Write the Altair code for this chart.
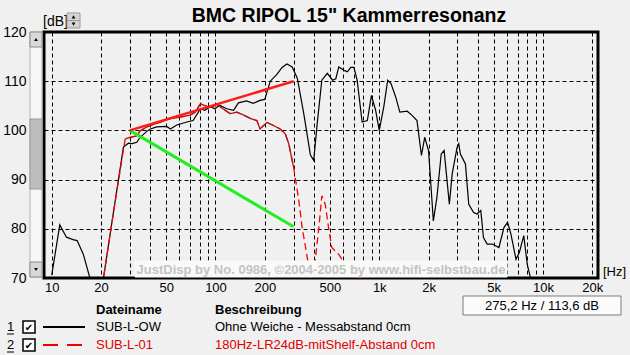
import altair as alt
import pandas as pd

# ---------------- data ----------------
black_f = [10, 11.2, 12.3, 13.5, 14.3, 15.6, 17.1, 18.5, 20.7, 23.8, 27.4, 29.4, 31, 33.1, 34.6,
           38.1, 40, 43.8, 50.5, 53, 58, 67, 73, 81, 86, 93, 99, 106, 117, 129, 138, 155, 170,
           187, 200, 216, 237, 255, 273, 294, 316, 346, 380, 398, 418, 446, 482, 519, 543, 566,
           610, 639, 670, 700, 733, 786, 846, 896, 950, 1000, 1066, 1126, 1180, 1260, 1336,
           1482, 1580, 1700, 1810, 1895, 2000, 2140, 2250, 2390, 2490, 2680, 2790, 2990, 3060,
           3130, 3360, 3520, 3770, 3950, 4170, 4330, 4560, 4900, 5380, 5780, 6080, 6370, 6840,
           7170, 7630, 8010, 8390, 8800]
black_db = [70.6, 80.8, 78.3, 77.8, 77.6, 74.8, 70.0, 66.0, 70.0, 83.3, 96.6, 97.4, 97.3, 97.6, 98.6,
            99.8, 100.3, 100.7, 100.8, 100.3, 101.1, 101.7, 102.0, 104.4, 104.1, 104.8, 104.4, 105.1,
            104.4, 104.1, 105.6, 106.0, 105.5, 106.1, 106.3, 110.0, 111.4, 112.8, 113.5, 112.9, 110.6,
            103.4, 95.0, 93.9, 101.4, 110.2, 111.6, 110.2, 110.5, 112.9, 112.2, 111.9, 112.8, 112.8,
            110.2, 101.7, 102.0, 107.1, 104.1, 100.0, 104.8, 110.2, 109.5, 106.8, 103.7, 103.9, 103.1,
            102.0, 94.9, 98.6, 95.9, 81.6, 86.4, 95.2, 95.9, 85.0, 91.2, 96.6, 97.3, 95.2, 93.2, 85.0,
            83.3, 83.0, 83.7, 78.2, 76.9, 76.9, 76.2, 80.3, 81.3, 78.9, 73.8, 75.2, 78.6, 72.8, 70.0,
            66.0]

red_f = [19.5, 20.7, 24, 28.1, 30.1, 33.1, 34.6, 38.1, 40, 46, 53, 61, 70, 75, 81, 88.7, 97, 101,
         111, 123, 135, 149, 164, 179, 187, 206, 226, 248, 267, 280, 300, 323, 338, 355, 372, 390,
         405, 428, 446, 468, 490, 513, 566, 610, 622, 680, 760, 830, 870]
red_db = [66.0, 70.0, 84.0, 98.3, 98.6, 98.9, 99.9, 100.7, 101.0, 101.7, 102.4, 102.7, 103.1, 103.7,
          105.4, 104.9, 104.8, 105.4, 104.4, 103.4, 103.7, 103.1, 102.4, 102.0, 100.3, 101.6, 101.0,
          100.3, 99.3, 97.3, 92.5, 85.7, 80.3, 76.2, 72.1, 67.0, 73.1, 80.3, 86.7, 85.0, 80.3, 76.2,
          74.8, 73.1, 71.4, 70.3, 70.2, 69.5, 66.0]

guide_f = [30, 300]
guide_red_db = [100, 110]
guide_green_db = [100, 80.4]

x_grid = [10, 20, 30, 40, 50, 60, 70, 80, 90,
          100, 200, 300, 400, 500, 600, 700, 800, 900,
          1000, 2000, 3000, 4000, 5000, 6000, 7000, 8000, 9000, 10000, 20000]
x_label_vals = [10, 20, 50, 100, 200, 500, 1000, 2000, 5000, 10000, 20000]
x_label_txt = ["10", "20", "50", "100", "200", "500", "1k", "2k", "5k", "10k", "20k"]
y_ticks = [70, 80, 90, 100, 110, 120]

title_text = 'BMC RIPOL 15" Kammerresonanz'
watermark = "JustDisp by No. 0986, \u00a92004-2005 by www.hifi-selbstbau.de"
readout = "275,2 Hz / 113,6 dB"
hdr = ["Dateiname", "Beschreibung"]
names = ["SUB-L-OW", "SUB-L-01"]
descr = ["Ohne Weiche - Messabstand 0cm", "180Hz-LR24dB-mitShelf-Abstand 0cm"]

FONT = "Liberation Sans, Arial, sans-serif"
NFONT = "Liberation Sans Narrow, Liberation Sans, Arial, sans-serif"
BG = "#f0f0f0"

black_df = pd.DataFrame({"f": black_f, "db": black_db})
red_df = pd.DataFrame({"f": red_f, "db": red_db})
guide_df = pd.DataFrame({"f": guide_f * 2, "db": guide_red_db + guide_green_db,
                         "g": ["red", "red", "green", "green"]})

label_expr = "".join(f"datum.value == {v} ? '{t}' : " for v, t in zip(x_label_vals, x_label_txt)) + "''"

xenc = alt.X("f:Q",
             scale=alt.Scale(type="log", domain=[8.97, 21670], nice=False),
             axis=alt.Axis(values=x_grid, labelExpr=label_expr, grid=True, gridColor="black",
                           gridDash=[4, 3], gridOpacity=1, gridWidth=1, ticks=False, tickSize=0,
                           domain=False, labelPadding=3, labelFont=FONT, labelFontSize=13,
                           labelColor="black", labelOverlap=False, labelFlush=False, title=None))
yenc = alt.Y("db:Q",
             scale=alt.Scale(domain=[70, 120], nice=False, zero=False),
             axis=alt.Axis(values=y_ticks, grid=True, gridColor="black", gridDash=[4, 3],
                           gridOpacity=1, gridWidth=1, ticks=False, tickSize=0, domain=False,
                           labelPadding=18, labelFont=NFONT, labelFontSize=14, labelColor="black",
                           title=None))

black_line = alt.Chart(black_df).mark_line(color="black", strokeWidth=1.2, clip=True).encode(
    x=xenc, y=yenc, order="f:Q")
red_dash = alt.Chart(red_df).mark_line(color="#ff0000", strokeWidth=1.3, strokeDash=[7, 4],
                                       clip=True).encode(x=xenc, y=yenc, order="f:Q")
red_solid = alt.Chart(red_df).transform_filter(
    (alt.datum.f >= 28) & (alt.datum.f <= 300)).mark_line(
    color="#a81818", strokeWidth=1.3, clip=True).encode(x=xenc, y=yenc, order="f:Q")
green_line = alt.Chart(guide_df).transform_filter(alt.datum.g == "green").mark_line(
    color="#22ee22", strokeWidth=3, clip=True).encode(x=xenc, y=yenc)
redg_line = alt.Chart(guide_df).transform_filter(alt.datum.g == "red").mark_line(
    color="#ff1a1a", strokeWidth=2.5, clip=True).encode(x=xenc, y=yenc)

ONE = alt.Data(values=[{"a": 1}])


def txt(s, x, y, size=13, weight="normal", color="black", align="left", baseline="middle", font=FONT):
    return alt.Chart(ONE).mark_text(text=s, align=align, baseline=baseline, fontSize=size,
                                    fontWeight=weight, color=color, font=font).encode(
        x=alt.value(x), y=alt.value(y))


def box(x1, x2, y1, y2, fill, stroke, sw=1):
    return alt.Chart(ONE).mark_rect(fill=fill, stroke=stroke, strokeWidth=sw).encode(
        x=alt.value(x1), x2=alt.value(x2), y=alt.value(y1), y2=alt.value(y2))


def hrule(x1, x2, y, color, sw=1, dash=None):
    kw = dict(color=color, strokeWidth=sw)
    if dash:
        kw["strokeDash"] = dash
    return alt.Chart(ONE).mark_rule(**kw).encode(x=alt.value(x1), x2=alt.value(x2), y=alt.value(y))


def tri(x, y, shape):
    return alt.Chart(ONE).mark_point(shape=shape, filled=True, color="black", size=14, opacity=1).encode(
        x=alt.value(x), y=alt.value(y))


chrome = [
    # left scrollbar
    box(-14, -2, 0, 245, "#f6f6f6", "#b4b4b4"),
    box(-14, -2, 87, 157, "#bdbdbd", "#9a9a9a"),
    box(-14, -2, 0, 15, "#d8d8d8", "#8a8a8a"),
    box(-14, -2, 230, 245, "#d8d8d8", "#8a8a8a"),
    tri(-8, 7.5, "triangle-up"),
    tri(-8, 237.5, "triangle-down"),
    # [dB] + spinner
    txt("[dB]", -1, -10.5, size=14),
    box(23, 36, -19, -11.5, "#d4d4d4", "#9a9a9a"),
    box(23, 36, -11.5, -4, "#d4d4d4", "#9a9a9a"),
    tri(29.5, -15.2, "triangle-up"),
    tri(29.5, -7.8, "triangle-down"),
    # title
    txt(title_text, 305, -10, size=19.5, weight="bold", align="center", baseline="alphabetic"),
    # [Hz]
    txt("[Hz]", 559, 240, size=13),
    # watermark
    box(91, 463, 229, 245, "#f9f9f9", "#f9f9f9"),
    txt(watermark, 277, 238, size=13, weight="bold", color="#c4c4c4", align="center"),
    # readout box
    box(419, 577, 264, 283, "#fbfbfb", "#7a7a7a"),
    txt(readout, 498, 273.5, size=13, align="center"),
    # legend header
    txt(hdr[0], 52, 278, weight="bold"),
    txt(hdr[1], 171, 278, weight="bold"),
    # row 1
    txt("1", -37, 295),
    hrule(-37, -30, 302, "black"),
    box(-21, -9, 289, 301, "white", "black", 1.5),
    txt("\u2714", -15, 295.5, size=10, align="center", font="DejaVu Sans"),
    hrule(-1, 41, 295, "black", 2),
    txt(names[0], 52, 295),
    txt(descr[0], 171, 295),
    # row 2
    txt("2", -37, 313),
    hrule(-37, -30, 320, "black"),
    box(-21, -9, 307, 319, "white", "black", 1.5),
    txt("\u2714", -15, 313.5, size=10, align="center", font="DejaVu Sans"),
    hrule(-1, 41, 313, "#ee0000", 2, [15, 9]),
    txt(names[1], 52, 313, color="#e00000"),
    txt(descr[1], 171, 313, color="#e00000"),
]

chart = alt.layer(black_line, red_dash, red_solid, green_line, redg_line, *chrome).properties(
    width=554, height=246,
    autosize=alt.AutoSizeParams(type="none"),
    padding={"left": 44, "top": 32, "right": 32, "bottom": 77},
    background=BG,
).configure_view(fill=BG, stroke="black", strokeWidth=3)

chart.save("out.html", embed_options={"renderer": "svg", "actions": False})
